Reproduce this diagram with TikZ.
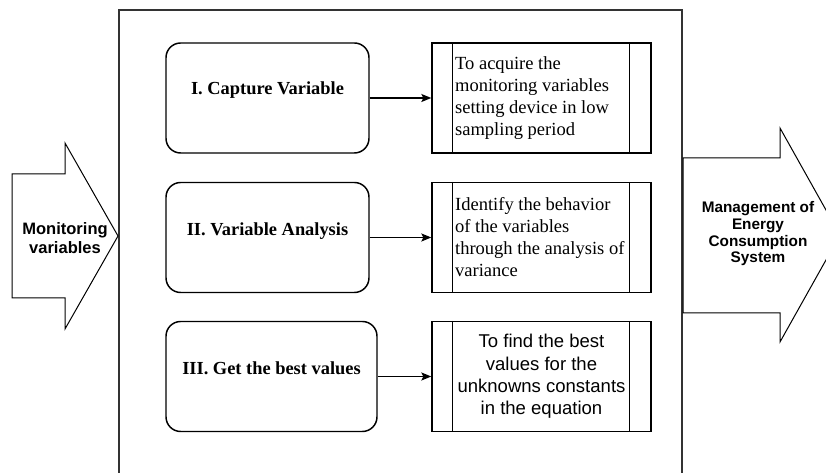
\documentclass[tikz,border=0pt]{standalone}
\usepackage{fontspec}
\setmainfont{Liberation Serif}
\setsansfont{Liberation Sans}
\usetikzlibrary{arrows.meta,calc}
% one drawing unit = one pixel of the layout grid
\newdimen\upx \upx=0.75pt
\definecolor{framegray}{HTML}{333333}

\tikzset{
  stagebox/.style={draw=black, line width=1.1pt, rounded corners=11pt,
    minimum width=203\upx, minimum height=110\upx, inner sep=0pt},
  procbox/.style={draw=black, line width=1pt,
    minimum width=219\upx, minimum height=110\upx, inner sep=0pt},
  procline/.style={draw=black, line width=1pt},
  stagetext/.style={font=\bfseries\fontsize{13.8pt}{16.5pt}\selectfont, inner sep=0pt},
  proctext/.style={font=\fontsize{13.9pt}{16.5pt}\selectfont, align=left, inner sep=0pt, anchor=west},
  procsans/.style={font=\sffamily\fontsize{13.9pt}{16.7pt}\selectfont, align=center, inner sep=0pt},
  conn/.style={draw=black, line width=1.1pt, -{Stealth[length=7.5pt, width=6pt, inset=1.5pt]}},
  bigarrow/.style={draw=black, line width=0.75pt, fill=white, line join=miter},
  frame/.style={draw=framegray, line width=1.5pt},
}

\begin{document}
\begin{tikzpicture}[x=\upx, y=-\upx]
  \useasboundingbox (0,0) rectangle (826,473);
  \clip (0,0) rectangle (826,473);

  % outer frame (runs past the lower edge)
  \draw[frame] (119,480) -- (119,10) -- (682,10) -- (682,480);

  % input arrow
  \draw[bigarrow] (12,174) -- (65,174) -- (65,143) -- (118,236) -- (65,329)
    -- (65,298) -- (12,298) -- cycle;
  \node[align=center, inner sep=0pt,
        font=\sffamily\bfseries\fontsize{12.4pt}{13.9pt}\selectfont]
    (inlabel) at (65,238) {Monitoring\\variables};

  % output arrow
  \draw[bigarrow] (683,158) -- (780,158) -- (780,128) -- (840,235) -- (780,342)
    -- (780,313) -- (683,313) -- cycle;
  \node[align=center, inner sep=0pt,
        font=\sffamily\bfseries\fontsize{11.5pt}{12.5pt}\selectfont]
    (outlabel) at (758,234) {Management of\\Energy\\Consumption\\System};

  % stages
  \node[stagebox] (r1) at (267.5,98) {};
  \node[stagebox] (r2) at (267.5,237.5) {};
  \node[stagebox, minimum width=211\upx] (r3) at (271.5,376.5) {};
  \node[stagetext] (t1) at ($(r1.center)+(0,-8)$) {I. Capture Variable};
  \node[stagetext] (t2) at ($(r2.center)+(0,-6)$) {II. Variable Analysis};
  \node[stagetext] (t3) at ($(r3.center)+(0,-8)$) {III. Get the best values};

  % predefined-process boxes
  \foreach \n/\y in {p1/98, p2/237.5, p3/376.5} {
    \node[procbox] (\n) at (541.5,\y) {};
    \draw[procline] ($(\n.north west)+(21,0)$) -- ($(\n.south west)+(21,0)$);
    \draw[procline] ($(\n.north east)+(-22,0)$) -- ($(\n.south east)+(-22,0)$);
  }
  \node[proctext] (d1) at ($(p1.west)+(23.5,0)$)
    {To acquire the\\monitoring variables\\setting device in low\\sampling period};
  \node[proctext] (d2) at ($(p2.west)+(23.5,0)$)
    {Identify the behavior\\of the variables\\through the analysis of\\variance};
  \node[procsans] (d3) at ($(p3.center)+(0,0)$)
    {To find the best\\values for the\\unknowns constants\\in the equation};

  % connectors
  \draw[conn] (r1.east) -- (p1.west);
  \draw[conn] (r2.east) -- (p2.west);
  \draw[conn] (r3.east) -- (p3.west);
\end{tikzpicture}
\end{document}
